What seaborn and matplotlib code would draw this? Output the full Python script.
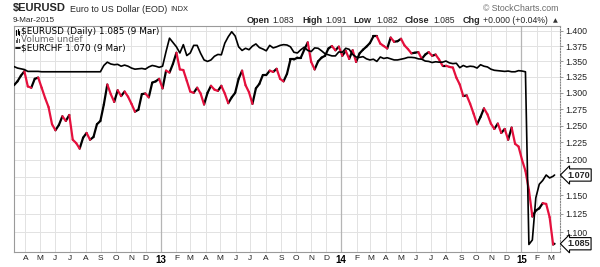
import numpy as np
import pandas as pd
import matplotlib
matplotlib.use("Agg")
import matplotlib.pyplot as plt
import seaborn as sns
from matplotlib.ticker import FixedLocator, FixedFormatter, NullLocator, NullFormatter
from matplotlib.lines import Line2D
from matplotlib.patches import Rectangle

# ---------------- data (weekly closes) ----------------
dates = list(pd.date_range("2012-03-09", "2015-03-06", freq="W-FRI")) + [pd.Timestamp("2015-03-09")]

eurusd = [
    # 2012
    1.312, 1.318, 1.327, 1.334,
    1.310, 1.308, 1.322, 1.324,
    1.308, 1.292, 1.278, 1.252,
    1.243, 1.251, 1.264, 1.257, 1.266,
    1.229, 1.224, 1.216, 1.232,
    1.239, 1.229, 1.233, 1.252, 1.257,
    1.282, 1.313, 1.298, 1.286,
    1.304, 1.295, 1.302, 1.294,
    1.283, 1.271, 1.274, 1.298, 1.299,
    1.293, 1.316, 1.318, 1.322,
    # 2013
    1.307, 1.335, 1.332, 1.346,
    1.364, 1.337, 1.336, 1.319,
    1.302, 1.300, 1.308, 1.299, 1.282,
    1.300, 1.311, 1.305, 1.303,
    1.311, 1.299, 1.284, 1.293, 1.300,
    1.322, 1.335, 1.312, 1.301,
    1.283, 1.307, 1.314, 1.328,
    1.328, 1.335, 1.333, 1.338, 1.322,
    1.318, 1.330, 1.353, 1.353,
    1.356, 1.356, 1.369, 1.381,
    1.349, 1.337, 1.350, 1.356, 1.359,
    1.371, 1.375, 1.368, 1.374,
    # 2014
    1.359, 1.367, 1.354, 1.368, 1.349,
    1.363, 1.369, 1.374, 1.380,
    1.391, 1.391, 1.379, 1.375,
    1.371, 1.389, 1.382, 1.383,
    1.387, 1.376, 1.370, 1.363, 1.364,
    1.365, 1.354, 1.361, 1.365,
    1.359, 1.361, 1.353, 1.343,
    1.343, 1.341, 1.340, 1.324, 1.313,
    1.295, 1.296, 1.283, 1.268,
    1.252, 1.263, 1.276, 1.267, 1.253,
    1.245, 1.253, 1.239, 1.245,
    1.229, 1.247, 1.223, 1.219,
    # 2015
    1.200, 1.184, 1.157, 1.121, 1.129,
    1.132, 1.139, 1.138, 1.120,
    1.084, 1.085,
]

eurchf = [
    # 2012
    1.208, 1.206, 1.205, 1.204,
    1.2015, 1.2015, 1.2015, 1.2015,
    1.201, 1.201, 1.201, 1.201,
    1.201, 1.201, 1.201, 1.201, 1.201,
    1.201, 1.201, 1.201, 1.201,
    1.201, 1.201, 1.201, 1.201, 1.201,
    1.2095, 1.214, 1.2115, 1.2105,
    1.211, 1.2085, 1.210, 1.2085,
    1.206, 1.2045, 1.205, 1.2055, 1.2045,
    1.2075, 1.2095, 1.2085, 1.207,
    # 2013
    1.2085, 1.2285, 1.247, 1.241,
    1.235, 1.2265, 1.238, 1.223,
    1.2265, 1.237, 1.237, 1.226, 1.217,
    1.215, 1.217, 1.222, 1.2245,
    1.224, 1.240, 1.249, 1.256, 1.250,
    1.235, 1.230, 1.233, 1.231,
    1.236, 1.239, 1.234, 1.232,
    1.2295, 1.237, 1.2335, 1.235, 1.237,
    1.238, 1.2375, 1.235, 1.2275,
    1.2265, 1.231, 1.2345, 1.230,
    1.2285, 1.2335, 1.233, 1.2295, 1.2255,
    1.224, 1.2225, 1.2225, 1.228,
    # 2014
    1.2275, 1.233, 1.2315, 1.2245, 1.221,
    1.2205, 1.2215, 1.2185, 1.217,
    1.218, 1.215, 1.221, 1.219,
    1.220, 1.2185, 1.217, 1.217,
    1.218, 1.219, 1.2205, 1.2205, 1.220,
    1.2185, 1.218, 1.2155, 1.215,
    1.2135, 1.2145, 1.214, 1.214,
    1.2155, 1.213, 1.212, 1.2125, 1.2065,
    1.2095, 1.2075, 1.2085, 1.208,
    1.206, 1.2105, 1.2085, 1.2075, 1.2045,
    1.203, 1.2025, 1.202, 1.2015,
    1.202, 1.201, 1.201, 1.2025,
    # 2015
    1.202, 1.201, 0.990, 0.995, 1.043,
    1.059, 1.0635, 1.070, 1.0665,
    1.0685, 1.070,
]

assert len(dates) == len(eurusd) == len(eurchf)

month_letters = ["J", "F", "M", "A", "M", "J", "J", "A", "S", "O", "N", "D"]
ytick_values = [1.100, 1.125, 1.150, 1.175, 1.200, 1.225, 1.250, 1.275,
                1.300, 1.325, 1.350, 1.375, 1.400]

# ---------------- frames ----------------
df = pd.DataFrame({"date": dates, "eurusd": eurusd, "eurchf": eurchf})
rows = []
for i in range(1, len(df)):
    d = "up" if df.eurusd[i] >= df.eurusd[i - 1] else "down"
    rows.append({"date": df.date[i - 1], "value": df.eurusd[i - 1], "seg": i, "dir": d})
    rows.append({"date": df.date[i], "value": df.eurusd[i], "seg": i, "dir": d})
seg_df = pd.DataFrame(rows)

# ---------------- style ----------------
sns.set_style("white")
plt.rcParams["font.family"] = ["Liberation Sans", "DejaVu Sans"]

W, H = 600, 267
fig = plt.figure(figsize=(6, 2.67), dpi=100)
fig.patch.set_facecolor("white")
L, R, T, B = 14, 560, 26, 252
ax = fig.add_axes([L / W, 1 - B / H, (R - L) / W, (B - T) / H])
ax.set_yscale("log")
ax.set_axisbelow(True)

RED = "#e5103d"
sns.lineplot(data=seg_df, x="date", y="value", hue="dir", units="seg",
             estimator=None, palette={"up": "black", "down": RED},
             legend=False, lw=1.6, ax=ax, zorder=3)

XMIN, XMAX = pd.Timestamp("2012-03-09"), pd.Timestamp("2015-03-20")
ax.set_ylim(1.0743, 1.4084)
ax.set_xlim(XMIN, XMAX)

# EURCHF overlay on its own scale
ax2 = ax.twinx()
ax2.set_yscale("log")
sns.lineplot(data=df, x="date", y="eurchf", color="black", lw=1.2, ax=ax2, zorder=4)
ax2.set_ylim(0.9817, 1.2641)
ax2.set_xlim(XMIN, XMAX)
ax2.yaxis.set_visible(False)
ax2.set_xlabel("")
ax2.set_ylabel("")
for s in ax2.spines.values():
    s.set_visible(False)

# y ticks on the right (after twinx, which resets the side)
ax.yaxis.tick_right()
ax.yaxis.set_label_position("right")
ax.yaxis.set_major_locator(FixedLocator(ytick_values))
ax.yaxis.set_major_formatter(FixedFormatter(
    ["" if abs(v - 1.175) < 1e-9 else f"{v:.3f}" for v in ytick_values]))
ax.yaxis.set_minor_locator(NullLocator())
ax.yaxis.set_minor_formatter(NullFormatter())
ax.tick_params(axis="y", which="major", left=False, labelleft=False, right=True,
               labelright=True, length=2, width=0.6, color="#888888",
               labelsize=6.3, labelcolor="#222222", pad=1.5, direction="out")

# x ticks: month starts
month_starts = pd.date_range("2012-04-01", "2015-03-01", freq="MS")
xlabels = [str(d.year)[2:] if d.month == 1 else month_letters[d.month - 1] for d in month_starts]
ax.set_xticks(month_starts)
ax.set_xticklabels(xlabels)
ax.tick_params(axis="x", length=0, labelsize=6.0, labelcolor="#222222", pad=2.5)
for lab in ax.get_xticklabels():
    if len(lab.get_text()) == 2:
        lab.set_fontweight("bold")
        lab.set_fontsize(7)
        lab.set_color("#000000")

ax.set_xlabel("")
ax.set_ylabel("")
ax.grid(True, axis="both", color="#e2e2e2", lw=0.7)
for d in month_starts:
    if d.month == 1:
        ax.axvline(d, color="#b5b5b5", lw=0.9, zorder=1)

for s in ["left", "top", "bottom"]:
    ax.spines[s].set_color("#9a9a9a")
    ax.spines[s].set_linewidth(0.8)
ax.spines["right"].set_color("#888888")
ax.spines["right"].set_linestyle((0, (1, 1.5)))
ax.spines["right"].set_linewidth(0.8)

# last value tags
box = dict(boxstyle="larrow,pad=0.18", fc="white", ec="black", lw=0.8)
ax.annotate(f"{eurusd[-1]:.3f}", xy=(1.0, eurusd[-1]), xycoords=("axes fraction", "data"),
            xytext=(5.0, 0), textcoords="offset points", ha="left", va="center",
            fontsize=6.5, fontweight="bold", bbox=box, annotation_clip=False, zorder=10)
ax2.annotate(f"{eurchf[-1]:.3f}", xy=(1.0, eurchf[-1]), xycoords=("axes fraction", "data"),
             xytext=(5.0, 0), textcoords="offset points", ha="left", va="center",
             fontsize=6.5, fontweight="bold", bbox=box, annotation_clip=False, zorder=10)

# ---------------- header texts ----------------
def fx(x):
    return x / W

def fy(y):
    return 1 - y / H

fig.text(fx(13), fy(8.5), "$EURUSD", fontsize=8.0, fontweight="bold", va="center", ha="left")
fig.text(fx(70), fy(9), "Euro to US Dollar (EOD)", fontsize=6.4, va="center", ha="left")
fig.text(fx(170), fy(9.3), "INDX", fontsize=5.4, va="center", ha="left")
fig.text(fx(13), fy(20), "9-Mar-2015", fontsize=5.9, va="center", ha="left")
fig.text(fx(483), fy(8.3), "\u00a9 StockCharts.com", fontsize=6.3, va="center", ha="left",
         color="#6a6a6a")

pieces = [
    (247, "Open", True), (272, "1.083", False),
    (302, "High", True), (325, "1.091", False),
    (353, "Low", True), (376, "1.082", False),
    (405, "Close", True), (433, "1.085", False),
    (463, "Chg", True), (483, "+0.000 (+0.04%)", False),
]
for x, t, b in pieces:
    fig.text(fx(x), fy(20.5), t, fontsize=6.5 if b else 6.2,
             fontweight="bold" if b else "normal", va="center", ha="left")
fig.text(fx(553), fy(20.5), "\u25b2", fontsize=4.5, va="center", ha="left", color="#333333",
         family=["DejaVu Sans"])

# ---------------- legend inside plot ----------------
leg_font = dict(fontsize=6.4, va="center", ha="left", family=["DejaVu Sans"])
fig.text(fx(21), fy(32), "$EURUSD (Daily) 1.085 (9 Mar)", color="black", **leg_font)
fig.text(fx(21), fy(40), "Volume undef", color="#666666", **leg_font)
fig.text(fx(21), fy(48), "$EURCHF 1.070 (9 Mar)", color="black", **leg_font)
# icons
for (x0, y0, y1) in [(16, 30, 35), (17.5, 29, 34), (19, 31, 35)]:
    fig.add_artist(Line2D([fx(x0), fx(x0)], [fy(y0), fy(y1)], color="black", lw=0.8))
for (x0, h) in [(16, 3), (17.5, 5), (19, 4)]:
    fig.add_artist(Rectangle((fx(x0 - 0.5), fy(43)), 1 / W, h / H, color="#555555", lw=0))
fig.add_artist(Line2D([fx(15.5), fx(20)], [fy(48), fy(48)], color="black", lw=1.3))

fig.savefig("out.png", dpi=100, facecolor="white")
